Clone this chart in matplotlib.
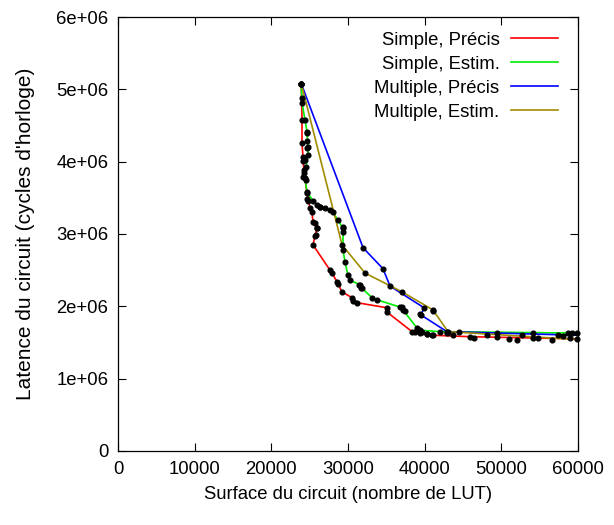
import matplotlib
matplotlib.use("Agg")
import matplotlib.pyplot as plt
from matplotlib.ticker import FuncFormatter, MultipleLocator

plt.rcParams['font.family'] = ['Liberation Sans', 'DejaVu Sans']
plt.rcParams['font.size'] = 13.3

# Pareto fronts (surface in LUT, latency in millions of cycles)
simple_precis_x = [23900, 24000, 24000, 24130, 24260, 24650, 25040, 25300, 25430, 25950,
                   25690, 25430, 27650, 27910, 28560, 29210, 30520, 31170, 35090, 35090,
                   38350, 39390, 40300, 41090, 45900, 60000]
simple_precis_y = [5.08, 4.58, 4.26, 4.06, 3.84, 3.57, 3.36, 3.30, 3.17, 3.08,
                   2.97, 2.85, 2.50, 2.46, 2.34, 2.20, 2.12, 2.05, 1.98, 1.92,
                   1.65, 1.63, 1.62, 1.60, 1.58, 1.55]

simple_estim_x = [23900, 24000, 24390, 24650, 24780, 24780, 24520, 24390, 24650, 25430,
                  25950, 26350, 27000, 28040, 28690, 29350, 29350, 29350, 29610, 30000,
                  30260, 31560, 31820, 33130, 33780, 36780, 37170, 39000, 39390, 42000, 60000]
simple_estim_y = [5.08, 4.81, 4.58, 4.41, 4.20, 4.09, 3.93, 3.77, 3.58, 3.46,
                  3.40, 3.37, 3.36, 3.30, 3.19, 3.08, 3.03, 2.78, 2.61, 2.43,
                  2.36, 2.30, 2.25, 2.12, 2.09, 1.99, 1.95, 1.70, 1.67, 1.65, 1.63]

multiple_precis_x = [23900, 31960, 34560, 35480, 39910, 39520, 42910, 60000]
multiple_precis_y = [5.08, 2.81, 2.52, 2.28, 1.98, 1.88, 1.65, 1.60]

multiple_estim_x = [23900, 29220, 32220, 37040, 41090, 43040, 60000]
multiple_estim_y = [5.08, 2.85, 2.46, 2.20, 1.95, 1.65, 1.54]

# Explored design points (black dots)
points_x = [23960, 24650, 24610, 24690, 24390, 24170, 24260, 24170, 24520, 24610,
            24820, 25690, 25990, 25790, 26350, 27650, 29390, 28650, 30690, 31430,
            31690, 37000, 37430, 41050, 39390, 39170, 38740, 39610, 40260, 40910,
            42870, 43690, 44480, 46430, 48090, 49430, 49430, 51000, 52000, 52690,
            54090, 54130, 54780, 56570, 57390, 58040, 58690, 59180, 58950, 59870, 59870]
points_y = [4.876, 4.40, 4.29, 4.185, 4.02, 4.01, 3.885, 3.79, 3.75, 3.49,
            3.45, 3.15, 3.08, 2.98, 3.38, 3.33, 3.09, 2.31, 2.08, 2.30,
            2.26, 1.99, 1.94, 1.94, 1.90, 1.67, 1.65, 1.65, 1.62, 1.60,
            1.63, 1.61, 1.65, 1.56, 1.60, 1.63, 1.57, 1.55, 1.535, 1.60,
            1.63, 1.56, 1.56, 1.54, 1.60, 1.59, 1.63, 1.63, 1.56, 1.63, 1.55]

labels = ["Simple, Précis", "Simple, Estim.", "Multiple, Précis", "Multiple, Estim."]
colors = ["#ff0000", "#00ee00", "#0000ff", "#a08c00"]

fig = plt.figure(figsize=(6.14, 5.25), dpi=100)
ax = fig.add_axes([0.1922, 0.141, 0.7492, 0.8266])

series = [(simple_precis_x, simple_precis_y), (simple_estim_x, simple_estim_y),
          (multiple_precis_x, multiple_precis_y), (multiple_estim_x, multiple_estim_y)]
for (xs, ys), lab, c in zip(series, labels, colors):
    ax.plot(xs, [v * 1e6 for v in ys], color=c, lw=1.2, label=lab, zorder=2)

# dots: all front vertices plus other explored points
all_x, all_y = [], []
for xs, ys in series:
    all_x += xs[:-1]
    all_y += ys[:-1]
all_x += points_x
all_y += points_y
ax.plot(all_x, [v * 1e6 for v in all_y], ls='none', marker='o', ms=3.4,
        color='black', zorder=3, clip_on=False)

ax.set_xlim(0, 60000)
ax.set_ylim(0, 6e6)
ax.xaxis.set_major_locator(MultipleLocator(10000))
ax.yaxis.set_major_locator(MultipleLocator(1e6))


def yfmt(v, pos):
    if v == 0:
        return "0"
    return "%de+06" % round(v / 1e6)


ax.yaxis.set_major_formatter(FuncFormatter(yfmt))
ax.tick_params(direction='in', length=6, width=0.8, top=True, right=True, pad=7)
for s in ax.spines.values():
    s.set_linewidth(0.9)

ax.set_xlabel("Surface du circuit (nombre de LUT)", labelpad=6)
ax.set_ylabel("Latence du circuit (cycles d'horloge)", labelpad=15, fontsize=15)

ax.legend(loc='upper right', bbox_to_anchor=(1.0, 1.013), frameon=False, markerfirst=False,
          handlelength=2.55, handletextpad=0.6, labelspacing=0.38, borderaxespad=0.7,
          borderpad=0.4)

fig.savefig("out.png", dpi=100)
